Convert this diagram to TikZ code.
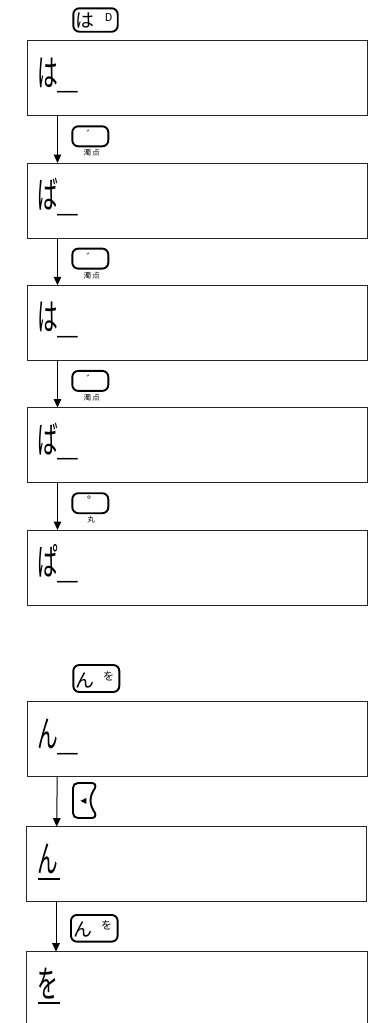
\documentclass[tikz,border=0pt]{standalone}
\usepackage{fontspec}
\usepackage{graphicx}
\setmainfont{Noto Sans CJK JP}
\newfontfamily\symfont{DejaVu Sans}
\usetikzlibrary{arrows.meta}
\newcommand{\lowcur}{\raisebox{-2.5pt}{＿}}
\begin{document}
\begin{tikzpicture}[x=1pt,y=-1pt,
  disp/.style={draw=black!85, line width=1pt, inner sep=0pt, outer sep=0pt, minimum width=340.5pt, minimum height=75pt, anchor=north west},
  lcd/.style={inner sep=0pt, outer sep=0pt, anchor=base west, font=\fontsize{37}{37}\selectfont},
  key/.style={draw=black, line width=1.9pt, rounded corners=6pt, inner sep=0pt, minimum width=36pt, minimum height=20pt},
  keytxt/.style={inner sep=0pt, outer sep=0pt},
  lab/.style={inner sep=0pt, font=\fontsize{7.5}{7.5}\selectfont},
  arr/.style={line width=1pt, -{Triangle[length=8.5pt,width=7.5pt]}},
  curs/.style={line width=2.5pt},
]
\useasboundingbox (0,0) rectangle (368,1023);
\clip (0,0) rectangle (368,1023);
% upper sequence
\node[key, minimum width=44.4pt, minimum height=23.4pt] (k1) at (95.5,20) {};
\node[keytxt, font=\fontsize{19}{19}\selectfont] (k1a) at (84.5,20.5) {は};
\node[keytxt, font=\fontsize{11}{11}\selectfont] (k1b) at (108.7,17) {D};

\node[disp] (b1) at (27,40.7) {};
\node[disp] (b2) at (27,163) {};
\node[disp] (b3) at (27,285.3) {};
\node[disp] (b4) at (27,407.6) {};
\node[disp] (b5) at (27,530) {};

\node[lcd] (t1) at (37,86.2) {\scalebox{0.56}[1]{は\lowcur}};
\node[lcd] (t2) at (37,208.5) {\scalebox{0.56}[1]{ば\lowcur}};
\node[lcd] (t3) at (37,330.8) {\scalebox{0.56}[1]{は\lowcur}};
\node[lcd] (t4) at (37,453.1) {\scalebox{0.56}[1]{ば\lowcur}};
\node[lcd] (t5) at (37,575.5) {\scalebox{0.56}[1]{ぱ\lowcur}};

\draw[arr] ([xshift=30.5pt]b1.south west) -- ([xshift=30.5pt]b2.north west);
\draw[arr] ([xshift=30.5pt]b2.south west) -- ([xshift=30.5pt]b3.north west);
\draw[arr] ([xshift=30.5pt]b3.south west) -- ([xshift=30.5pt]b4.north west);
\draw[arr] ([xshift=30.5pt]b4.south west) -- ([xshift=30.5pt]b5.north west);

\node[key] (k2) at (90.3,136.3) {};
\node[keytxt, font=\fontsize{9}{9}\selectfont] (k2m) at (91,134) {゛};
\node[lab] (l2) at (91.7,153) {濁\,点};
\node[key] (k3) at (90.3,258.6) {};
\node[keytxt, font=\fontsize{9}{9}\selectfont] (k3m) at (91,256.3) {゛};
\node[lab] (l3) at (91.7,275.3) {濁\,点};
\node[key] (k4) at (90.3,380.9) {};
\node[keytxt, font=\fontsize{9}{9}\selectfont] (k4m) at (91,378.6) {゛};
\node[lab] (l4) at (91.7,397.6) {濁\,点};
\node[key] (k5) at (90.3,503.2) {};
\node[keytxt, font=\fontsize{14}{14}\selectfont] (k5m) at (94,502) {゜};
\node[lab] (l5) at (91,519.5) {丸};

% lower sequence
\node[key, minimum width=46pt, minimum height=27pt] (k6) at (96.3,678.5) {};
\node[keytxt, font=\fontsize{19}{19}\selectfont] (k6a) at (85,680) {ん};
\node[keytxt, font=\fontsize{11}{11}\selectfont] (k6b) at (108.5,676) {を};

\node[disp] (b6) at (27,701.7) {};
\node[disp] (b7) at (26.3,826.7) {};
\node[disp, minimum height=100pt] (b8) at (26.7,951.7) {};

\node[lcd] (t6) at (37,747.9) {\scalebox{0.56}[1]{ん\lowcur}};
\node[lcd] (t7) at (37,872.9) {\scalebox{0.56}[1]{ん}};
\node[lcd] (t8) at (37,997.9) {\scalebox{0.56}[1]{を}};
\draw[curs] (37.5,879) -- (60,879);
\draw[curs] (37.5,1003) -- (60,1003);

\draw[arr] ([xshift=30.2pt]b6.south west) -- ([xshift=30.4pt]b7.north west);
\draw[arr] ([xshift=29.7pt]b7.south west) -- ([xshift=29.3pt]b8.north west);

\draw[line width=1.9pt] (78,783) -- (91,783) .. controls (95,783) and (96,785) .. (95,788)
  .. controls (89,797) and (89,804) .. (95,813) .. controls (96,816) and (95,818) .. (91,818)
  -- (78,818) .. controls (75,818) and (73,816) .. (73,813) -- (73,788)
  .. controls (73,785) and (75,783) .. (78,783) -- cycle;
\node[keytxt, font=\symfont\fontsize{8}{8}\selectfont] (k7t) at (83.5,801) {◀};

\node[key, minimum width=46.7pt, minimum height=26.7pt] (k8) at (94.3,928.3) {};
\node[keytxt, font=\fontsize{19}{19}\selectfont] (k8a) at (83,929.8) {ん};
\node[keytxt, font=\fontsize{11}{11}\selectfont] (k8b) at (106.5,925.8) {を};
\end{tikzpicture}
\end{document}
